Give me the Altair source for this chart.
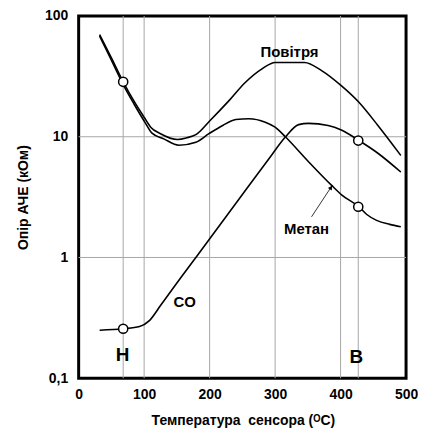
import altair as alt
import pandas as pd

# Series data (temperature °C, resistance kOhm)
air_x = [32, 50, 68, 85, 100, 110, 125, 151, 165, 179, 200, 230, 254, 280, 300, 345, 371, 401, 428, 457, 492]
air_y = [70, 45, 28.5, 19.5, 14.5, 12.0, 10.6, 9.5, 9.8, 10.4, 13.5, 20, 28, 36.5, 41.2, 41.2, 35.3, 26.5, 19.3, 12.4, 7.0]

meth_x = [32, 50, 68, 85, 100, 112, 130, 153, 179, 199, 220, 240, 260, 285, 300, 316, 350, 386, 402, 428, 440, 455, 475, 492]
meth_y = [68, 43, 27, 18.5, 13.5, 10.7, 9.6, 8.5, 9.0, 10.6, 12.4, 13.9, 14.1, 13.2, 12.0, 9.95, 6.3, 3.97, 3.29, 2.63, 2.27, 2.03, 1.88, 1.80]

co_x = [32, 68, 93, 108, 125, 145, 165, 179, 245, 290, 316, 336, 351, 381, 402, 428, 457, 492]
co_y = [0.25, 0.257, 0.268, 0.30, 0.40, 0.565, 0.79, 1.0, 3.05, 6.5, 10.0, 12.6, 12.9, 12.4, 11.3, 9.3, 7.3, 5.1]

marker_x = [68, 68, 427, 427]
marker_y = [28.5, 0.257, 9.3, 2.63]

label_text = ["Повітря", "Метан", "CO"]
label_x = [322, 348, 162]
label_y = [50.6, 1.72, 0.427]

letter_text = ["Н", "В"]
letter_x = [67, 424]
letter_y = [0.155, 0.15]

grid_x = [68, 100, 200, 300, 400, 427]
grid_y = [1, 10]

x_ticks = [0, 100, 200, 300, 400, 500]
y_ticks = [0.1, 1, 10, 100]

arrow_tail = (355.6, 2.17)
arrow_head = (387.5, 3.97)
arrowhead_pos = (385.3, 3.8)

FONT = "Liberation Sans"

rows = []
for name, xs, ys in [("Повітря", air_x, air_y), ("Метан", meth_x, meth_y), ("CO", co_x, co_y)]:
    for xv, yv in zip(xs, ys):
        rows.append({"series": name, "t": xv, "r": yv})
lines_df = pd.DataFrame(rows)

x_scale = alt.Scale(domain=[0, 500], nice=False, zero=False)
y_scale = alt.Scale(type="log", domain=[0.1, 100], nice=False)

x_axis = alt.Axis(
    values=x_ticks, grid=False, domain=False, ticks=False,
    labelFont=FONT, labelFontSize=14, labelFontWeight="bold", labelColor="black",
    labelPadding=9, labelFlush=False,
    title="Температура\u00a0 сенсора (ᴼC)", titleFont=FONT, titleFontSize=14,
    titleFontWeight="bold", titleColor="black",
    titleX=165, titleY=42, titleBaseline="middle", titleAlign="center",
)
y_axis = alt.Axis(
    values=y_ticks, grid=False, domain=False, ticks=False,
    labelFont=FONT, labelFontSize=14, labelFontWeight="bold", labelColor="black",
    labelPadding=11, labelFlush=False,
    labelExpr="datum.value < 1 ? '0,1' : format(datum.value, 'd')",
    title="Опір АЧЕ (кОм)", titleFont=FONT, titleFontSize=14,
    titleFontWeight="bold", titleColor="black",
    titleX=-55, titleY=182, titleAngle=-90, titleBaseline="middle", titleAlign="center",
)

def X(field="t"):
    return alt.X(f"{field}:Q", scale=x_scale, axis=x_axis)

def Y(field="r"):
    return alt.Y(f"{field}:Q", scale=y_scale, axis=y_axis)

grid_v = alt.Chart(pd.DataFrame({"t": grid_x})).mark_rule(color="#a6a6a6", strokeWidth=1).encode(x=X())
grid_h = alt.Chart(pd.DataFrame({"r": grid_y})).mark_rule(color="#a6a6a6", strokeWidth=1).encode(y=Y())

lines = alt.Chart(lines_df).mark_line(color="black", strokeWidth=1.6, interpolate="monotone").encode(
    x=X(), y=Y(), detail="series:N", order="t:Q"
)

markers = alt.Chart(pd.DataFrame({"t": marker_x, "r": marker_y})).mark_point(
    shape="circle", size=85, filled=True, fill="white", stroke="black", strokeWidth=1.5, opacity=1
).encode(x=X(), y=Y())

labels = alt.Chart(pd.DataFrame({"t": label_x, "r": label_y, "txt": label_text})).mark_text(
    font=FONT, fontSize=15, fontWeight="bold", color="black", align="center", baseline="middle"
).encode(x=X(), y=Y(), text="txt:N")

letters = alt.Chart(pd.DataFrame({"t": letter_x, "r": letter_y, "txt": letter_text})).mark_text(
    font=FONT, fontSize=19, fontWeight="bold", color="black", align="center", baseline="middle"
).encode(x=X(), y=Y(), text="txt:N")

arrow = alt.Chart(pd.DataFrame({"t": [arrow_tail[0]], "r": [arrow_tail[1]],
                                "t2": [arrow_head[0]], "r2": [arrow_head[1]]})).mark_rule(
    color="black", strokeWidth=0.8
).encode(x=X(), y=Y(), x2="t2:Q", y2="r2:Q")

arrowhead = alt.Chart(pd.DataFrame({"t": [arrowhead_pos[0]], "r": [arrowhead_pos[1]]})).mark_point(
    shape="triangle-up", size=22, filled=True, color="black", angle=33, opacity=1
).encode(x=X(), y=Y())

chart = alt.layer(grid_v, grid_h, lines, arrow, arrowhead, markers, labels, letters).properties(
    width=329, height=364,
    autosize=alt.AutoSizeParams(type="none"),
    padding={"left": 71, "top": 7, "right": 12, "bottom": 52},
    background="white",
).configure_view(stroke="black", strokeWidth=3)

chart.save("out.html", embed_options={"renderer": "svg", "actions": False})
